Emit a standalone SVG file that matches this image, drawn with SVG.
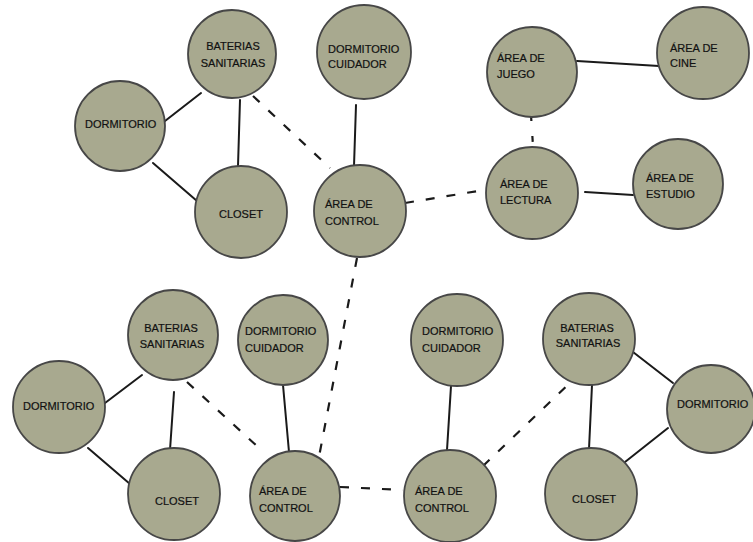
<svg xmlns="http://www.w3.org/2000/svg" width="753" height="542" viewBox="0 0 753 542">
<style>
.n{fill:#a8a98f;stroke:#474747;stroke-width:1.8}
.t{font-family:"Liberation Sans",Arial,sans-serif;font-size:11px;fill:#111111;stroke:#111111;stroke-width:0.2}
.m{text-anchor:middle}
.s{stroke:#1a1a1a;stroke-width:2;fill:none;stroke-linecap:round}
.d{stroke:#1a1a1a;stroke-width:2.2;fill:none;stroke-dasharray:9 12}
</style>
<rect width="753" height="542" fill="#ffffff"/>
<g id="connectors">
<line class="s" x1="165" y1="121" x2="201" y2="93"/>
<line class="s" x1="153" y1="163" x2="197" y2="201"/>
<line class="s" x1="240" y1="100" x2="238" y2="166"/>
<line class="s" x1="356" y1="105" x2="354" y2="166"/>
<line class="s" x1="577" y1="61" x2="659" y2="66"/>
<line class="s" x1="585" y1="192" x2="633" y2="195"/>
<line class="s" x1="105" y1="403" x2="142" y2="375"/>
<line class="s" x1="88" y1="448" x2="130" y2="484"/>
<line class="s" x1="174" y1="392" x2="170" y2="450"/>
<line class="s" x1="283" y1="385" x2="289" y2="452"/>
<line class="s" x1="451" y1="386" x2="447" y2="450"/>
<line class="s" x1="592" y1="385" x2="589" y2="449"/>
<line class="s" x1="633" y1="352" x2="673" y2="383"/>
<line class="s" x1="668" y1="428" x2="625" y2="462"/>
<line class="d" x1="253" y1="96" x2="330" y2="168"/>
<line class="d" x1="405" y1="203" x2="484" y2="190"/>
<line class="d" x1="531" y1="115" x2="533" y2="146" style="stroke-dasharray:6 15"/>
<line class="d" x1="357" y1="258" x2="318" y2="462"/>
<line class="d" x1="340" y1="487" x2="403" y2="490"/>
<line class="d" x1="483" y1="466" x2="575" y2="378"/>
<line class="d" x1="187" y1="382" x2="258" y2="447"/>
</g>
<g id="tl-baterias"><circle class="n" cx="232" cy="54" r="44"/><text class="t m" x="233" y="50">BATERIAS</text><text class="t m" x="233" y="67">SANITARIAS</text></g>
<g id="tl-dormitorio"><circle class="n" cx="120" cy="126" r="45"/><text class="t" x="85" y="128">DORMITORIO</text></g>
<g id="tl-closet"><circle class="n" cx="241" cy="212" r="46"/><text class="t" x="219" y="218">CLOSET</text></g>
<g id="tl-cuidador"><circle class="n" cx="364" cy="52" r="47"/><text class="t" x="328" y="53">DORMITORIO</text><text class="t" x="328" y="68">CUIDADOR</text></g>
<g id="t-control"><circle class="n" cx="360" cy="211" r="46"/><text class="t" x="325" y="208">ÁREA DE</text><text class="t" x="325" y="225">CONTROL</text></g>
<g id="juego"><circle class="n" cx="532" cy="72" r="45"/><text class="t" x="497" y="62">ÁREA DE</text><text class="t" x="497" y="78">JUEGO</text></g>
<g id="cine"><circle class="n" cx="703" cy="53" r="46"/><text class="t" x="670" y="52">ÁREA DE</text><text class="t" x="670" y="67">CINE</text></g>
<g id="lectura"><circle class="n" cx="532" cy="193" r="46"/><text class="t" x="500" y="188">ÁREA DE</text><text class="t" x="500" y="204">LECTURA</text></g>
<g id="estudio"><circle class="n" cx="678" cy="184" r="45"/><text class="t" x="646" y="182">ÁREA DE</text><text class="t" x="646" y="198">ESTUDIO</text></g>
<g id="bl-baterias"><circle class="n" cx="173" cy="335" r="45"/><text class="t m" x="171" y="332">BATERIAS</text><text class="t m" x="172" y="348">SANITARIAS</text></g>
<g id="bl-cuidador"><circle class="n" cx="283" cy="340" r="45"/><text class="t" x="245" y="335">DORMITORIO</text><text class="t" x="245" y="352">CUIDADOR</text></g>
<g id="bl-dormitorio"><circle class="n" cx="59" cy="407" r="46"/><text class="t" x="23" y="410">DORMITORIO</text></g>
<g id="bl-closet"><circle class="n" cx="174" cy="494" r="46"/><text class="t" x="155" y="505">CLOSET</text></g>
<g id="bl-control"><circle class="n" cx="295" cy="496" r="45"/><text class="t" x="259" y="495">ÁREA DE</text><text class="t" x="259" y="512">CONTROL</text></g>
<g id="br-cuidador"><circle class="n" cx="457" cy="340" r="46"/><text class="t" x="422" y="335">DORMITORIO</text><text class="t" x="422" y="352">CUIDADOR</text></g>
<g id="br-baterias"><circle class="n" cx="589" cy="339" r="46"/><text class="t m" x="587" y="332">BATERIAS</text><text class="t m" x="588" y="347">SANITARIAS</text></g>
<g id="br-dormitorio"><circle class="n" cx="711" cy="409" r="44"/><text class="t" x="677" y="408">DORMITORIO</text></g>
<g id="br-closet"><circle class="n" cx="591" cy="494" r="46"/><text class="t" x="572" y="503">CLOSET</text></g>
<g id="br-control"><circle class="n" cx="450" cy="496" r="46"/><text class="t" x="415" y="495">ÁREA DE</text><text class="t" x="415" y="512">CONTROL</text></g>
</svg>
